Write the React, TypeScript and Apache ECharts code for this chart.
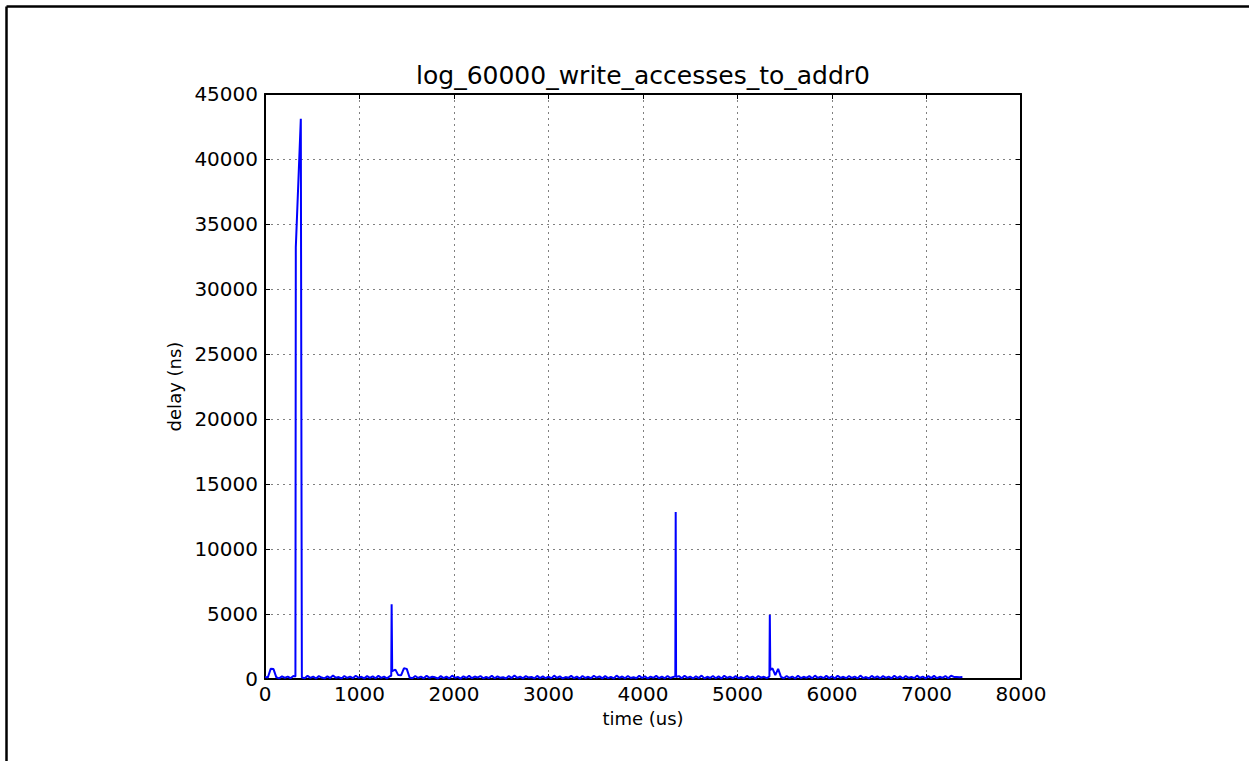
import React, { useEffect, useRef } from "react";
import * as echarts from "echarts";

// Regular samples of write delay, one every SAMPLE_US microseconds.
// null marks samples replaced by the latency spikes listed below.
const SAMPLE_US = 30;
const baselineDelays: (number | null)[] = [
  160, 120, 780, 760, 130, 50, 210, 80, 190, 60, 230, null, null, 120, 60, 240, 90, 180, 40, 220,
  110, 50, 200, 70, 260, 90, 150, 40, 230, 80, 190, 60, 250, 100, 170, 50, 220, 80, 200, 60,
  240, 90, 180, 50, 210, null, 720, 300, 280, 820, 780, 120, 60, 230, 80, 180, 50, 250, 90, 170,
  130, 40, 220, 70, 180, 50, 260, 90, 160, 30, 210, 80, 240, 60, 190, 100, 230, 50, 170, 70,
  250, 60, 200, 90, 140, 40, 230, 70, 270, 80, 180, 50, 220, 110, 160, 40, 240, 70, 200, 60,
  180, 50, 260, 80, 210, 40, 150, 90, 240, 60, 190, 30, 230, 80, 170, 60, 250, 100, 200, 50,
  220, 70, 160, 40, 260, 90, 190, 50, 230, 80, 140, 60, 250, 70, 210, 40, 180, 90, 240, 60,
  190, 50, 230, 80, 160, 150, 220, 60, 250, 90, 180, 40, 210, 70, 260, 50, 170, 80, 230, 60,
  200, 40, 250, 90, 180, 60, 220, 70, 150, 50, 240, 80, 190, 40, 230, 100, 170, 60, null, 820,
  300, 780, 160, 60, 230, 80, 190, 40, 250, 70, 170, 90, 220, 50, 260, 80, 180, 60, 240, 70,
  210, 40, 250, 90, 170, 60, 230, 80, 190, 50, 260, 70, 150, 40, 240, 90, 200, 60, 220, 80,
  180, 50, 250, 70, 200, 40, 230, 90, 160, 60, 260, 80, 190, 50, 220, 70, 240, 60, 170, 90,
  230, 60, 250, 160, 150, 140, 150,
];

// Latency spikes with the samples right around them: [time (us), delay (ns)]
const spikes: [number, number][] = [
  [322, 200],
  [326, 33200],
  [379, 43100],
  [1336, 250],
  [1340, 5750],
  [1346, 600],
  [4342, 200],
  [4346, 12850],
  [5338, 200],
  [5342, 4950],
  [5347, 700],
];

const xTicks = { min: 0, max: 8000, interval: 1000 };
const yTicks = { min: 0, max: 45000, interval: 5000 };

const TITLE = "log_60000_write_accesses_to_addr0";
const X_NAME = "time (us)";
const Y_NAME = "delay (ns)";

function buildSeries(): [number, number][] {
  const pts: [number, number][] = [];
  baselineDelays.forEach((v, i) => {
    if (v !== null) pts.push([i * SAMPLE_US, v]);
  });
  spikes.forEach((p) => pts.push([p[0], p[1]]));
  pts.sort((a, b) => a[0] - b[0]);
  return pts;
}

const FONT = "DejaVu Sans";
const plain = (v: number) => String(v);

export default function App() {
  const ref = useRef<HTMLDivElement>(null);

  useEffect(() => {
    document.body.style.margin = "0";
    if (!ref.current) return;
    const chart = echarts.init(ref.current, undefined, { renderer: "svg" });

    const frame = { show: true, onZero: false, lineStyle: { color: "#000", width: 2 } };
    const tickIn = { show: true, inside: true, length: 5, lineStyle: { color: "#000", width: 1 } };
    const grid = { show: true, lineStyle: { color: "#808080", type: [2, 4] as any, width: 1 } };

    chart.setOption({
      animation: false,
      backgroundColor: "#fff",
      textStyle: { fontFamily: FONT },
      grid: { left: 265, right: 228, top: 94, bottom: 82, containLabel: false },
      xAxis: [
        {
          type: "value",
          ...xTicks,
          position: "bottom",
          axisLine: frame,
          axisTick: tickIn,
          splitLine: grid,
          axisLabel: { color: "#000", fontSize: 20, fontFamily: FONT, margin: 5, formatter: plain },
          name: X_NAME,
          nameLocation: "middle",
          nameGap: 30,
          nameTextStyle: { color: "#000", fontSize: 18, fontFamily: FONT },
        },
        {
          type: "value",
          ...xTicks,
          position: "top",
          axisLine: frame,
          axisTick: tickIn,
          splitLine: { show: false },
          axisLabel: { show: false },
        },
      ],
      yAxis: [
        {
          type: "value",
          ...yTicks,
          position: "left",
          axisLine: frame,
          axisTick: tickIn,
          splitLine: grid,
          axisLabel: { color: "#000", fontSize: 20, fontFamily: FONT, margin: 7, formatter: plain },
          name: Y_NAME,
          nameLocation: "middle",
          nameGap: 75,
          nameRotate: 90,
          nameTextStyle: { color: "#000", fontSize: 18, fontFamily: FONT },
        },
        {
          type: "value",
          ...yTicks,
          position: "right",
          axisLine: frame,
          axisTick: tickIn,
          splitLine: { show: false },
          axisLabel: { show: false },
        },
      ],
      series: [
        {
          type: "line",
          xAxisIndex: 0,
          yAxisIndex: 0,
          data: buildSeries(),
          showSymbol: false,
          lineStyle: { color: "#0000ff", width: 2 },
          z: 3,
        },
      ],
      graphic: [
        {
          type: "text",
          x: 643,
          y: 75,
          style: {
            text: TITLE,
            fill: "#000",
            font: `25px "${FONT}"`,
            textAlign: "center",
            textVerticalAlign: "middle",
          },
        },
        {
          type: "line",
          shape: { x1: 6.5, y1: 6.5, x2: 1249, y2: 6.5 },
          style: { stroke: "#000", lineWidth: 2.5 },
        },
        {
          type: "line",
          shape: { x1: 6.5, y1: 6.5, x2: 6.5, y2: 761 },
          style: { stroke: "#000", lineWidth: 2.5 },
        },
      ],
    });

    return () => chart.dispose();
  }, []);

  return <div ref={ref} style={{ width: 1249, height: 761 }} />;
}
